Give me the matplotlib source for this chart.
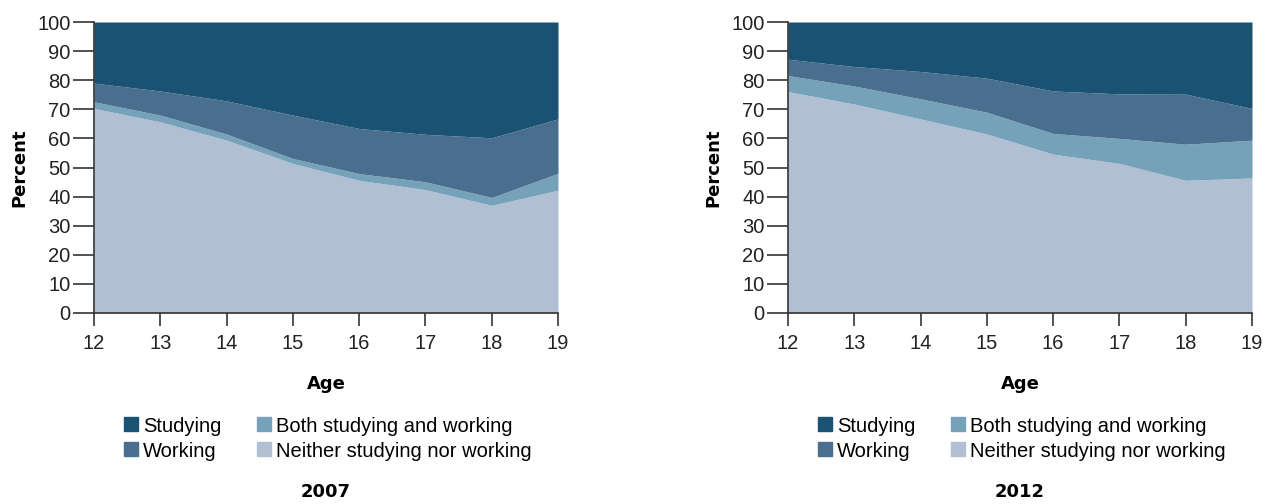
import numpy as np
import matplotlib
matplotlib.use('Agg')
import matplotlib.pyplot as plt
from matplotlib.lines import Line2D

plt.rcParams.update({'font.size': 14.5, 'font.family': ['Liberation Sans', 'DejaVu Sans']})

ages = [12, 13, 14, 15, 16, 17, 18, 19]

# cumulative tops (percent)
neither_2007 = [70.3, 65.7, 59.4, 51.4, 45.6, 42.4, 37.0, 42.2]
both_top_2007 = [72.6, 68.0, 61.5, 53.1, 47.9, 45.1, 39.7, 48.0]
working_top_2007 = [79.0, 76.3, 72.9, 68.0, 63.4, 61.4, 60.2, 66.7]

neither_2012 = [76.1, 71.8, 66.7, 61.5, 54.6, 51.4, 45.6, 46.4]
both_top_2012 = [81.6, 78.0, 73.6, 69.0, 61.7, 60.0, 58.0, 59.4]
working_top_2012 = [87.2, 84.7, 83.0, 80.7, 76.3, 75.3, 75.2, 70.3]

labels = ['Studying', 'Working', 'Both studying and working', 'Neither studying nor working']
colors = ['#1a5273', '#4a6e8d', '#76a2b9', '#b0bfd2']

panels = [
    (2007, neither_2007, both_top_2007, working_top_2007),
    (2012, neither_2012, both_top_2012, working_top_2012),
]

fig = plt.figure(figsize=(12.65, 5.04), dpi=100)
lefts = [94 / 1265, 788 / 1265]

for left, (year, neither, both_top, working_top) in zip(lefts, panels):
    ax = fig.add_axes([left, 191 / 504, 464 / 1265, 291 / 504])
    x = np.array(ages)
    top = np.full(len(ages), 100.0)
    ax.fill_between(x, 0, neither, color=colors[3], lw=0)
    ax.fill_between(x, neither, both_top, color=colors[2], lw=0)
    ax.fill_between(x, both_top, working_top, color=colors[1], lw=0)
    ax.fill_between(x, working_top, top, color=colors[0], lw=0)

    ax.set_xlim(12, 19)
    ax.set_ylim(0, 100)
    ax.set_xticks(ages)
    ax.set_yticks(range(0, 101, 10))
    for s in ['top', 'right']:
        ax.spines[s].set_visible(False)
    for s in ['left', 'bottom']:
        ax.spines[s].set_color('#333333')
        ax.spines[s].set_linewidth(1.2)
    ax.tick_params(axis='y', length=15, width=1.2, pad=2)
    ax.tick_params(axis='x', length=9, width=1.2, pad=6)
    ax.tick_params(axis='both', color='#333333', labelcolor='#222222')

    ax.set_ylabel('Percent', fontweight='heavy', fontfamily='DejaVu Sans', fontsize=13, labelpad=6)
    ax.set_xlabel('Age', fontweight='heavy', fontfamily='DejaVu Sans', fontsize=13, labelpad=16)

    handles = [Line2D([], [], marker='s', ls='', markersize=10, color=c) for c in colors]
    ax.legend(handles, labels, ncol=2, frameon=False, loc='upper center',
              bbox_to_anchor=(0.5, -0.328), handletextpad=0.1, columnspacing=1.6,
              labelspacing=0.3, handlelength=1.0, borderaxespad=0, fontsize=14.5)

    ax.text(0.5, -0.585, str(year), transform=ax.transAxes, ha='center', va='top',
            fontweight='heavy', fontfamily='DejaVu Sans', fontsize=13)

fig.savefig('out.png', dpi=100)
